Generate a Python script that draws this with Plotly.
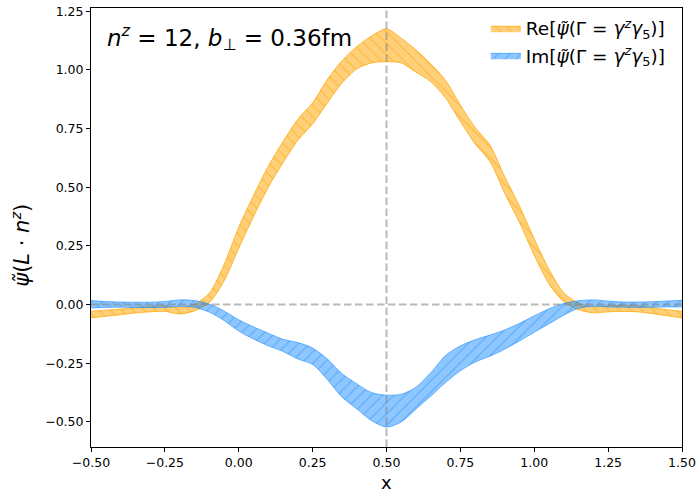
import plotly.graph_objects as go

# momentum fraction grid
x = [-0.50, -0.45, -0.40, -0.35, -0.30, -0.25, -0.20, -0.15, -0.10, -0.05,
     0.00, 0.05, 0.10, 0.15, 0.20, 0.25, 0.30, 0.35, 0.40, 0.45,
     0.50, 0.55, 0.60, 0.65, 0.70, 0.75, 0.80, 0.85, 0.90, 0.95,
     1.00, 1.05, 1.10, 1.15, 1.20, 1.25, 1.30, 1.35, 1.40, 1.45, 1.50]

# real part: lower / upper edge of the error band
re_lo = [-0.057, -0.050, -0.043, -0.036, -0.031, -0.029, -0.040, -0.027, 0.008, 0.100,
         0.240, 0.375, 0.500, 0.605, 0.700, 0.770, 0.860, 0.945, 1.005, 1.030,
         1.035, 1.030, 0.990, 0.950, 0.880, 0.780, 0.685, 0.610, 0.475, 0.350,
         0.210, 0.088, 0.012, -0.022, -0.035, -0.031, -0.029, -0.031, -0.039, -0.048, -0.057]
re_hi = [-0.028, -0.024, -0.019, -0.012, -0.007, -0.005, -0.014, 0.001, 0.048, 0.170,
         0.330, 0.465, 0.590, 0.695, 0.790, 0.860, 0.960, 1.040, 1.100, 1.145,
         1.175, 1.135, 1.085, 1.025, 0.955, 0.850, 0.755, 0.680, 0.545, 0.420,
         0.280, 0.150, 0.050, 0.006, -0.009, -0.005, -0.003, -0.005, -0.013, -0.022, -0.029]

# imaginary part: lower / upper edge of the error band
im_lo = [-0.014, -0.012, -0.011, -0.012, -0.013, -0.012, -0.008, -0.012, -0.032, -0.068,
         -0.113, -0.147, -0.176, -0.200, -0.232, -0.255, -0.320, -0.395, -0.445, -0.495,
         -0.522, -0.500, -0.445, -0.390, -0.332, -0.282, -0.245, -0.220, -0.190, -0.155,
         -0.118, -0.082, -0.045, -0.016, -0.007, -0.010, -0.011, -0.012, -0.011, -0.010, -0.010]
im_hi = [0.017, 0.013, 0.011, 0.010, 0.010, 0.013, 0.020, 0.017, 0.002, -0.027,
         -0.065, -0.095, -0.122, -0.148, -0.162, -0.185, -0.232, -0.295, -0.338, -0.375,
         -0.386, -0.382, -0.352, -0.290, -0.217, -0.176, -0.150, -0.130, -0.108, -0.080,
         -0.048, -0.018, 0.005, 0.016, 0.020, 0.015, 0.011, 0.011, 0.012, 0.015, 0.018]

x_ticks = [-0.5, -0.25, 0.0, 0.25, 0.5, 0.75, 1.0, 1.25, 1.5]
y_ticks = [-0.5, -0.25, 0.0, 0.25, 0.5, 0.75, 1.0, 1.25]

re_name = "Re[<i>ψ̃</i>(Γ = <i>γ</i><sup><i>z</i></sup><i>γ</i><sub>5</sub>)]"
im_name = "Im[<i>ψ̃</i>(Γ = <i>γ</i><sup><i>z</i></sup><i>γ</i><sub>5</sub>)]"

FONT = "DejaVu Sans"

fig = go.Figure()


def add_band(lo, hi, name, fill, edge, hatch, shape):
    fig.add_trace(go.Scatter(
        x=x, y=lo, mode="lines", line=dict(color=edge, width=1, shape="spline", smoothing=0.8),
        showlegend=False, hoverinfo="skip"))
    fig.add_trace(go.Scatter(
        x=x, y=hi, mode="lines", name=name,
        line=dict(color=edge, width=1, shape="spline", smoothing=0.8),
        fill="tonexty", fillcolor=fill,
        fillpattern=dict(shape=shape, fgcolor=hatch, fillmode="overlay", size=8, solidity=0.16),
        hoverinfo="skip"))


add_band(re_lo, re_hi, re_name, "rgba(255,165,0,0.52)", "rgba(255,165,0,0.75)",
         "rgba(255,160,0,0.9)", "\\")
add_band(im_lo, im_hi, im_name, "rgba(30,144,255,0.5)", "rgba(30,144,255,0.6)",
         "rgba(30,135,240,0.8)", "/")

# reference lines at zero and at x = 0.5
fig.add_shape(type="line", xref="paper", x0=0, x1=1, yref="y", y0=0, y1=0,
              line=dict(color="rgba(128,128,128,0.55)", width=2, dash="7.5px,3.5px"), layer="above")
fig.add_shape(type="line", xref="x", x0=0.5, x1=0.5, yref="paper", y0=0, y1=1,
              line=dict(color="rgba(128,128,128,0.55)", width=2, dash="7.5px,3.5px"), layer="above")

axis_common = dict(
    showline=True, mirror=True, linecolor="black", linewidth=1,
    ticks="outside", ticklen=4, tickwidth=1, tickcolor="black",
    showgrid=False, zeroline=False,
    tickfont=dict(family=FONT, size=12.5, color="black"),
)

fig.update_xaxes(range=[-0.5, 1.5], tickvals=x_ticks, tickformat=".2f", **axis_common)
fig.update_yaxes(range=[-0.607, 1.264], tickvals=y_ticks, tickformat=".2f", **axis_common)

fig.add_annotation(
    text="<i>n</i><sup><i>z</i></sup> = 12, <i>b</i><sub>⊥</sub> = 0.36fm",
    xref="x", yref="y", x=-0.452, y=1.14, xanchor="left", yanchor="middle",
    showarrow=False, font=dict(family=FONT, size=23, color="black"))

fig.add_annotation(
    text="x", xref="paper", yref="paper", x=0.5, y=-0.08, xanchor="center", yanchor="middle",
    showarrow=False, font=dict(family=FONT, size=18, color="black"))

fig.add_annotation(
    text="<i>ψ̃</i>(<i>L</i> · <i>n</i><sup><i>z</i></sup>)", textangle=-90,
    xref="paper", yref="paper", x=-0.119, y=0.46, xanchor="center", yanchor="middle",
    showarrow=False, font=dict(family=FONT, size=21, color="black"))

fig.update_layout(
    width=700, height=497,
    margin=dict(l=91, r=14, t=4, b=50),
    paper_bgcolor="white", plot_bgcolor="white",
    font=dict(family=FONT, color="black"),
    legend=dict(x=0.668, y=0.996, xanchor="left", yanchor="top",
                traceorder="normal",
                bgcolor="rgba(0,0,0,0)", borderwidth=0,
                font=dict(family=FONT, size=18.5, color="black"),
                tracegroupgap=2),
)

fig.write_html("out.html")
